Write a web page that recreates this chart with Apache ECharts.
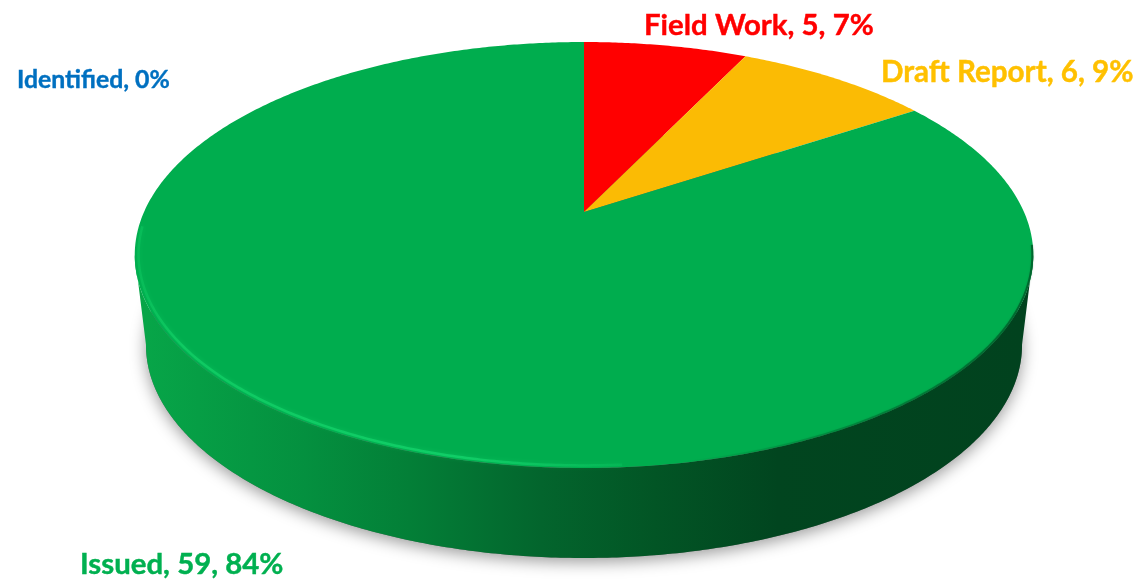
<!DOCTYPE html>
<html>
<head>
<meta charset="utf-8">
<title>Audit status</title>
<script src="https://cdn.jsdelivr.net/npm/echarts@6/dist/echarts.min.js"></script>
<style>
    html, body { margin: 0; padding: 0; background: #fff; }
    #main { width: 1138px; height: 579px; }
</style>
</head>
<body>
<div id="main"></div>
<script>
const categories = ["Identified", "Field Work", "Draft Report", "Issued"];
const counts = [0, 5, 6, 59];
const sliceColors = ["#0070c0", "#ff0000", "#fbbb04", "#00ad4e"];
const labelColors = ["#0070c0", "#ff0000", "#ffc000", "#00b050"];

const total = counts.reduce((a, b) => a + b, 0);
const chart = echarts.init(document.getElementById("main"));

// perspective disc: apex of the slices is not the middle of the ellipse
const TILT = 0.2019;
const topFace = { r: 440, s: 204.3, cx: 584, cy: 212 };
const baseFace = { r: 429, s: 204.3, cx: 584, cy: 302 };
const EDGE_FROM = 101.6; // where the rim turns away, degrees clockwise from top
const EDGE_TO = 258.4;

const project = (face, deg, scale = 1) => {
    const a = (deg * Math.PI) / 180;
    const u = Math.sin(a) * scale;
    const v = Math.cos(a) * scale;
    const w = 1 + TILT * v;
    return [face.cx + (face.r * u) / w, face.cy - (face.s * v) / w];
};

const arcPoints = (face, from, to, scale) => {
    const pts = [];
    const steps = Math.max(2, Math.ceil(Math.abs(to - from) * 2));
    for (let i = 0; i <= steps; i++) {
        pts.push(project(face, from + ((to - from) * i) / steps, scale));
    }
    return pts;
};

const sliceRange = (index) => {
    const before = counts.slice(0, index).reduce((a, b) => a + b, 0);
    return [(before / total) * 360, ((before + counts[index]) / total) * 360];
};

const labelText = (index) => {
    const pct = Math.round((counts[index] / total) * 100);
    return counts[index] === 0
        ? `${categories[index]}, ${pct}%`
        : `${categories[index]}, ${counts[index]}, ${pct}%`;
};

const wallFill = new echarts.graphic.LinearGradient(146, 0, 1024, 0, [
    { offset: 0, color: "#07a548" },
    { offset: 0.18, color: "#04903f" },
    { offset: 0.3, color: "#037f37" },
    { offset: 0.45, color: "#03652d" },
    { offset: 0.58, color: "#025525" },
    { offset: 0.72, color: "#01451f" },
    { offset: 1, color: "#01421e" },
], true);

const rimLight = new echarts.graphic.LinearGradient(135, 0, 680, 0, [
    { offset: 0, color: "rgba(16, 205, 100, 0.35)" },
    { offset: 0.08, color: "rgba(16, 205, 100, 0.85)" },
    { offset: 0.6, color: "rgba(20, 212, 108, 0.8)" },
    { offset: 1, color: "rgba(20, 212, 108, 0)" },
], true);

const rimDark = new echarts.graphic.LinearGradient(680, 0, 1030, 0, [
    { offset: 0, color: "rgba(0, 90, 40, 0)" },
    { offset: 1, color: "rgba(0, 90, 40, 0.8)" },
], true);

const drawShadow = () => ({
    type: "polygon",
    silent: true,
    shape: { points: arcPoints(baseFace, 0, 360) },
    style: {
        fill: "#6a6a6a",
        shadowBlur: 16,
        shadowColor: "rgba(0, 0, 0, 0.4)",
        shadowOffsetY: 4,
    },
});

const drawWall = (params) => {
    const [start, end] = sliceRange(params.dataIndex);
    const from = Math.max(start, EDGE_FROM);
    const to = Math.min(end, EDGE_TO);
    if (to <= from) return null;
    return {
        type: "polygon",
        silent: true,
        shape: { points: arcPoints(topFace, from, to).concat(arcPoints(baseFace, to, from)) },
        style: { fill: wallFill },
    };
};

const drawTop = (params) => {
    const [start, end] = sliceRange(params.dataIndex);
    if (end <= start) return null;
    return {
        type: "polygon",
        silent: true,
        shape: { points: [[topFace.cx, topFace.cy]].concat(arcPoints(topFace, start, end)) },
        style: { fill: sliceColors[params.dataIndex] },
    };
};

const drawRim = () => ({
    type: "group",
    silent: true,
    children: [
        {
            type: "polyline",
            shape: { points: arcPoints(topFace, 176, 266, 0.992) },
            style: { fill: null, stroke: rimLight, lineWidth: 2.5, shadowBlur: 4, shadowColor: "rgba(20, 212, 108, 0.5)" },
        },
        {
            type: "polyline",
            shape: { points: arcPoints(topFace, 99, 175, 0.998) },
            style: { fill: null, stroke: rimDark, lineWidth: 2, shadowBlur: 2, shadowColor: "rgba(0, 90, 40, 0.4)" },
        },
    ],
});

// left edge and middle of each label, same order as categories
const labelSpots = [[17, 80, 24.8], [644, 26, 29.4], [881, 72, 29.6], [80, 565, 29.4]];

const drawLabel = (params) => {
    const [x, y, size] = labelSpots[params.dataIndex];
    return {
        type: "text",
        silent: true,
        style: {
            text: labelText(params.dataIndex),
            x: x,
            y: y,
            fill: labelColors[params.dataIndex],
            stroke: labelColors[params.dataIndex],
            lineWidth: 0.4,
            font: `700 ${size}px Lato, "Open Sans", sans-serif`,
            textAlign: "left",
            textVerticalAlign: "middle",
        },
    };
};

const layer = (name, renderItem, data) => ({
    name: name,
    type: "custom",
    coordinateSystem: "none",
    renderItem: renderItem,
    data: data,
    animation: false,
});

const rows = categories.map((c, i) => [i, counts[i]]);

chart.setOption({
    backgroundColor: "#ffffff",
    animation: false,
    series: [
        layer("shadow", drawShadow, [0]),
        layer("wall", drawWall, rows),
        layer("top", drawTop, rows),
        layer("rim", drawRim, [0]),
        layer("labels", drawLabel, rows),
    ],
});
</script>
</body>
</html>
